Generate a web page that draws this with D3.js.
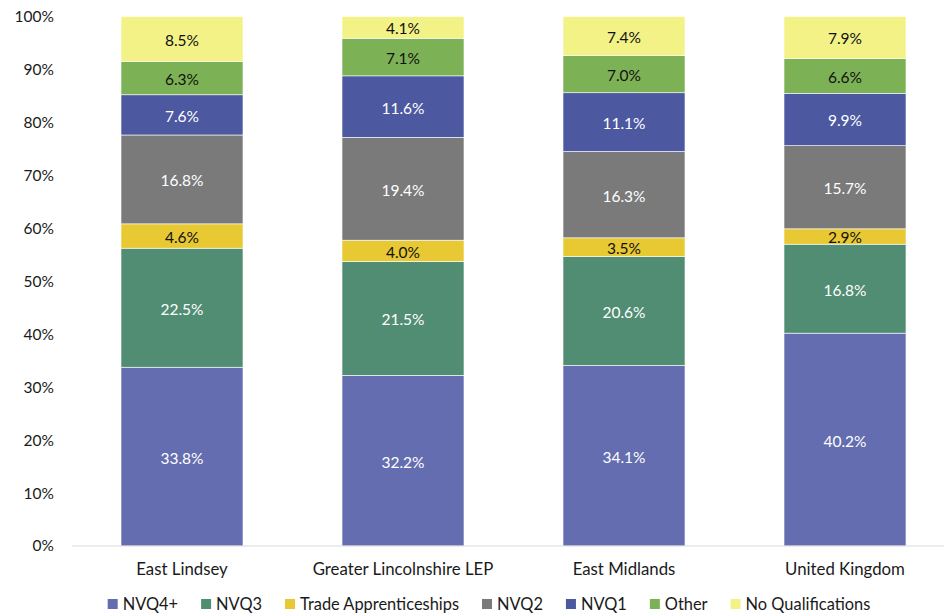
<!DOCTYPE html>
<html>
<head>
<meta charset="utf-8">
<script src="https://cdn.jsdelivr.net/npm/d3@7"></script>
<style>
  html, body { margin: 0; padding: 0; background: #fff; }
  svg { display: block; font-family: Lato, "Open Sans", sans-serif; }
</style>
</head>
<body>
<svg id="chart" width="944" height="616"></svg>
<script>
// Areas compared
const categories = ["East Lindsey", "Greater Lincolnshire LEP", "East Midlands", "United Kingdom"];

// Qualification levels, stacked bottom to top
const seriesNames = ["NVQ4+", "NVQ3", "Trade Apprenticeships", "NVQ2", "NVQ1", "Other", "No Qualifications"];

// Share of residents (%) per area, one array per level
const nvq4 = [33.8, 32.2, 34.1, 40.2];
const nvq3 = [22.5, 21.5, 20.6, 16.8];
const trade = [4.6, 4.0, 3.5, 2.9];
const nvq2 = [16.8, 19.4, 16.3, 15.7];
const nvq1 = [7.6, 11.6, 11.1, 9.9];
const other = [6.3, 7.1, 7.0, 6.6];
const noQual = [8.5, 4.1, 7.4, 7.9];

const yTicks = [0, 0.1, 0.2, 0.3, 0.4, 0.5, 0.6, 0.7, 0.8, 0.9, 1.0];

const colors = ["#636daf", "#508d72", "#e8c833", "#7a7a7a", "#4c58a0", "#7db155", "#f2f287"];
const labelColors = ["#fff", "#fff", "#111", "#fff", "#fff", "#111", "#111"];

const seriesValues = [nvq4, nvq3, trade, nvq2, nvq1, other, noQual];
const rows = categories.map((c, i) => {
  const r = { category: c };
  seriesNames.forEach((s, j) => { r[s] = seriesValues[j][i]; });
  return r;
});

const svg = d3.select("#chart");
const x = d3.scaleBand().domain(categories).range([71.5, 955.5]).paddingInner(0.448).paddingOuter(0.224);
const y = d3.scaleLinear().domain([0, 1]).range([546, 16.5]);

const stack = d3.stack().keys(seriesNames).offset(d3.stackOffsetExpand);
const stacked = stack(rows);

// Bars
const layers = svg.append("g").selectAll("g").data(stacked).join("g")
  .attr("fill", (d, i) => colors[i]);

layers.selectAll("rect").data(d => d.map(p => ({ p, key: d.key }))).join("rect")
  .attr("x", d => x(d.p.data.category))
  .attr("width", x.bandwidth())
  .attr("y", d => y(d.p[1]))
  .attr("height", d => y(d.p[0]) - y(d.p[1]))
  .attr("stroke", "#ffffff")
  .attr("stroke-width", 0.6);

// Segment value labels
stacked.forEach((layer, i) => {
  svg.append("g").selectAll("text").data(layer).join("text")
    .attr("x", d => x(d.data.category) + x.bandwidth() / 2)
    .attr("y", d => (y(d[0]) + y(d[1])) / 2)
    .attr("dy", "0.45em")
    .attr("text-anchor", "middle")
    .attr("font-size", 15.5)
    .attr("fill", labelColors[i])
    .text(d => d.data[layer.key].toFixed(1) + "%");
});

// Baseline
svg.append("line")
  .attr("x1", 72).attr("x2", 944)
  .attr("y1", y(0)).attr("y2", y(0))
  .attr("stroke", "#d9d9d9").attr("stroke-width", 1);

// Y axis labels
const yAxis = d3.axisLeft(y).tickValues(yTicks).tickFormat(d3.format(".0%")).tickSize(0).tickPadding(0);
const gy = svg.append("g").attr("transform", "translate(54,0)").call(yAxis);
gy.select(".domain").remove();
gy.selectAll("text").attr("font-size", 15.5).attr("fill", "#1a1a1a").attr("font-family", "Lato, 'Open Sans', sans-serif");

// X axis labels
const xAxis = d3.axisBottom(x).tickSize(0).tickPadding(0);
const gx = svg.append("g").attr("transform", "translate(0,563)").call(xAxis);
gx.select(".domain").remove();
gx.selectAll("text").attr("font-size", 16.8).attr("fill", "#1a1a1a").attr("font-family", "Lato, 'Open Sans', sans-serif");

// Legend
const legend = svg.append("g");
const items = legend.selectAll("g").data(seriesNames).join("g");
items.append("rect").attr("width", 10).attr("height", 10).attr("y", -5)
  .attr("fill", (d, i) => colors[i]);
items.append("text").attr("x", 15).attr("dy", "0.36em")
  .attr("font-size", 16.4).attr("fill", "#1a1a1a").text(d => d);
let cx = 0;
const positions = [];
const gap = 23;
items.each(function () {
  const w = this.querySelector("text").getComputedTextLength();
  positions.push(cx);
  cx += 15 + w + gap;
});
const total = cx - gap;
const startX = 489 - total / 2;
items.attr("transform", (d, i) => `translate(${startX + positions[i]},604)`);
</script>
</body>
</html>
